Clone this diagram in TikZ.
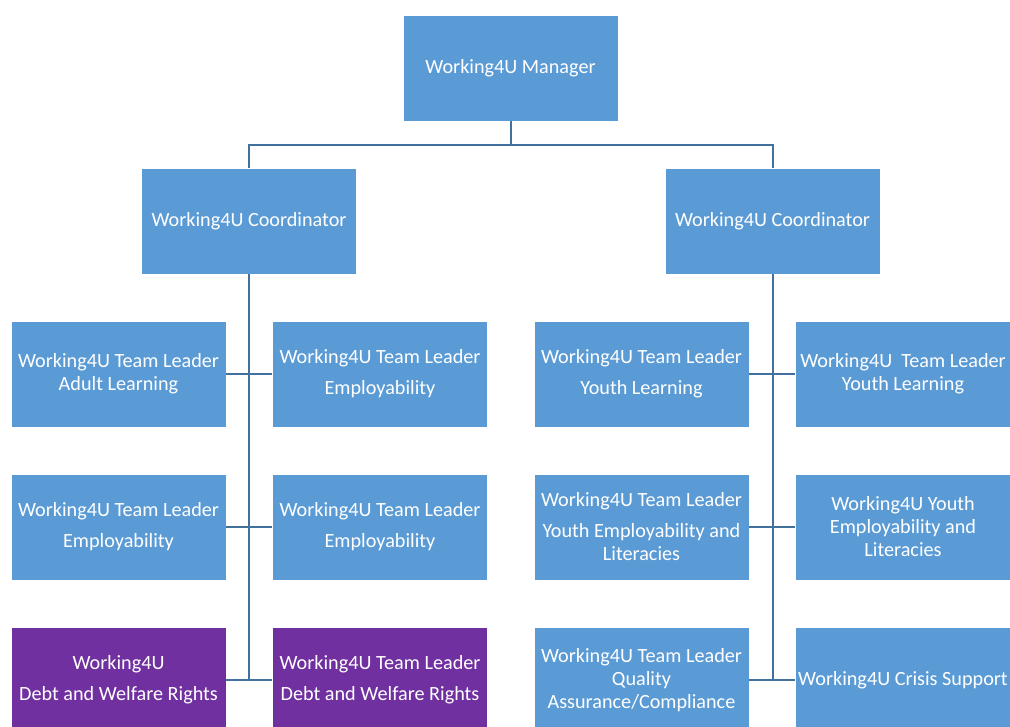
\documentclass[tikz,border=0pt]{standalone}
\usepackage{fontspec}
\setmainfont{Carlito}
\usepackage{tikz}
\usetikzlibrary{positioning}
\definecolor{boxblue}{RGB}{91,155,213}
\definecolor{boxpurple}{RGB}{112,48,160}
\definecolor{linkline}{RGB}{65,113,156}

\tikzset{
  role/.style={fill=boxblue, draw=white, line width=0.4pt, text=white,
    minimum width=215pt, minimum height=106pt, inner sep=0pt,
    align=center, font=\fontsize{20.2}{23}\selectfont},
  debt/.style={role, fill=boxpurple},
  link/.style={draw=linkline, line width=2pt}
}

\begin{document}
\begin{tikzpicture}[x=1pt, y=-1pt]
    \useasboundingbox (0,0) rectangle (1010,727);
    % top levels
    \node[role] (mgr) at (510.5,68) {Working4U Manager};
    \node[role] (coordA) at (249,221) {Working4U Coordinator};
    \node[role] (coordB) at (772.5,221) {Working4U Coordinator};
    % left team
    \node[role] (aAdult) at (118.5,374) {Working4U Team Leader\\Adult Learning};
    \node[role] (aEmplA) at (380,374) {Working4U Team Leader\\[8pt]Employability};
    \node[role] (aEmplB) at (118.5,527) {Working4U Team Leader\\[8pt]Employability};
    \node[role] (aEmplC) at (380,527) {Working4U Team Leader\\[8pt]Employability};
    \node[debt] (aDebtA) at (118.5,680) {Working4U\\[8pt]Debt and Welfare Rights};
    \node[debt] (aDebtB) at (380,680) {Working4U Team Leader\\[8pt]Debt and Welfare Rights};
    % right team
    \node[role] (bYouthA) at (641.5,374) {Working4U Team Leader\\[8pt]Youth Learning};
    \node[role] (bYouthB) at (903,374) {Working4U\ \ Team Leader\\Youth Learning};
    \node[role] (bLitA) at (641.5,527) {Working4U Team Leader\\[8pt]Youth Employability and\\Literacies};
    \node[role] (bLitB) at (903,527) {Working4U Youth\\Employability and\\Literacies};
    \node[role] (bQual) at (641.5,680) {Working4U Team Leader\\Quality\\Assurance/Compliance};
    \node[role] (bCrisis) at (903,680) {Working4U Crisis Support};
    % connectors
    \draw[link] (mgr.south) -- ++(0,24) coordinate (bus) -| (coordA.north);
    \draw[link] (bus) -| (coordB.north);
    \draw[link] (coordA.south) -- (coordA.south |- aDebtA.east);
    \draw[link] (coordB.south) -- (coordB.south |- bQual.east);
    \draw[link] (aAdult.east) -- (aEmplA.west);
    \draw[link] (aEmplB.east) -- (aEmplC.west);
    \draw[link] (aDebtA.east) -- (aDebtB.west);
    \draw[link] (bYouthA.east) -- (bYouthB.west);
    \draw[link] (bLitA.east) -- (bLitB.west);
    \draw[link] (bQual.east) -- (bCrisis.west);
  \end{tikzpicture}
\end{document}
